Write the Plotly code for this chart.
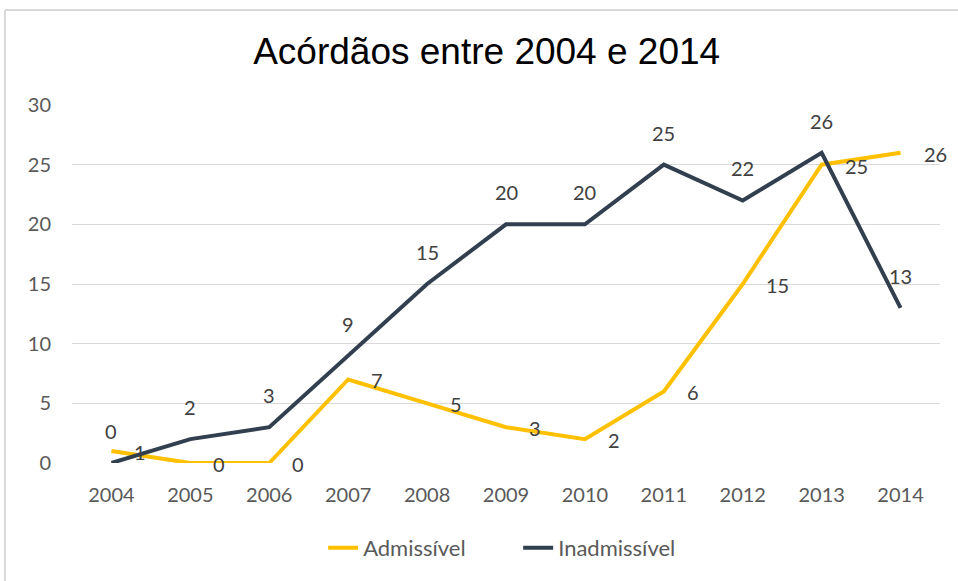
import plotly.graph_objects as go

years = ["2004", "2005", "2006", "2007", "2008", "2009", "2010", "2011", "2012", "2013", "2014"]
admissivel = [1, 0, 0, 7, 5, 3, 2, 6, 15, 25, 26]
inadmissivel = [0, 2, 3, 9, 15, 20, 20, 25, 22, 26, 13]
y_ticks = [0, 5, 10, 15, 20, 25, 30]

YELLOW = "#FFC000"
DARK = "#323F4F"
FONT = "Lato"

fig = go.Figure()
fig.add_trace(go.Scatter(x=years, y=admissivel, mode="lines", name="Admissível",
                         line=dict(color=YELLOW, width=4), hoverinfo="x+y"))
fig.add_trace(go.Scatter(x=years, y=inadmissivel, mode="lines", name="Inadmissível",
                         line=dict(color=DARK, width=4), hoverinfo="x+y"))

annotations = []
for i, v in enumerate(inadmissivel):
    annotations.append(dict(x=i, y=v, xref="x", yref="y", text=str(v), showarrow=False,
                            xanchor="center", yanchor="middle", yshift=32,
                            font=dict(family=FONT, size=20, color="#404040")))
for i, v in enumerate(admissivel):
    annotations.append(dict(x=i, y=v, xref="x", yref="y", text=str(v), showarrow=False,
                            xanchor="left", yanchor="middle", xshift=21, yshift=-1,
                            font=dict(family=FONT, size=20, color="#404040")))

shapes = [
    dict(type="line", xref="paper", yref="paper", x0=-0.0772, x1=1.03, y0=1.2654, y1=1.2654,
         line=dict(color="#D9D9D9", width=2)),
    dict(type="line", xref="paper", yref="paper", x0=-0.0772, x1=-0.0772, y0=1.2654, y1=-0.35,
         line=dict(color="#D9D9D9", width=2)),
]

fig.update_layout(
    width=958, height=581,
    margin=dict(l=72, r=18, t=105, b=118),
    paper_bgcolor="white", plot_bgcolor="white",
    title=dict(text="Acórdãos entre 2004 e 2014", x=0.508, xref="container", xanchor="center",
               y=0.912, yref="container", yanchor="middle",
               font=dict(family="Liberation Sans", size=37, color="#000000")),
    xaxis=dict(type="category", categoryorder="array", categoryarray=years,
               range=[-0.5, 10.5], showgrid=False, zeroline=False, showline=False,
               ticks="", ticklabelstandoff=18,
               tickfont=dict(family=FONT, size=20, color="#595959")),
    yaxis=dict(range=[0, 30], tickvals=y_ticks, showgrid=True, gridcolor="#D9D9D9", gridwidth=1,
               zeroline=False, showline=False, ticks="", ticklabelstandoff=20,
               tickfont=dict(family=FONT, size=20, color="#595959")),
    legend=dict(orientation="h", x=0.514, xanchor="center", y=-0.237, yanchor="middle",
                font=dict(family=FONT, size=22, color="#595959"), entrywidth=150,
                bgcolor="rgba(0,0,0,0)"),
    annotations=annotations,
    shapes=shapes,
    showlegend=True,
)

fig.write_html("out.html", config={"displayModeBar": False},
               post_script="document.body.style.margin='0';")
